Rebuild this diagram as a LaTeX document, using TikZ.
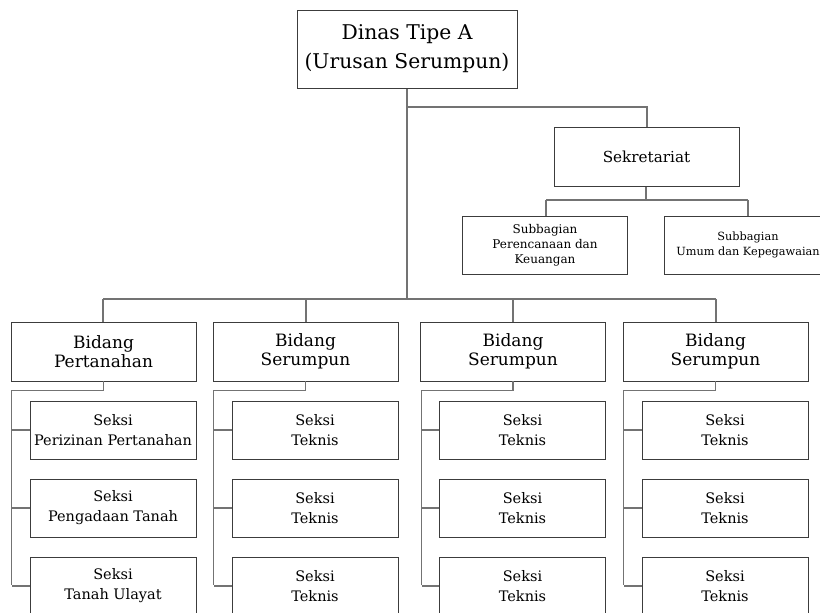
\documentclass[tikz,border=0pt]{standalone}
\usepackage{fontspec}
\setmainfont{DejaVu Serif}
\definecolor{boxline}{RGB}{60,60,60}
\definecolor{conline}{RGB}{115,115,115}
\tikzset{
  orgbox/.style={draw=boxline, line width=0.9pt, fill=white, rectangle, align=center, inner sep=0pt, text=black},
  topbox/.style={orgbox, minimum width=220pt, minimum height=78pt, font=\fontsize{20.3}{29}\selectfont},
  sekbox/.style={orgbox, minimum width=185pt, minimum height=59pt, font=\fontsize{15.2}{19}\selectfont},
  subbox/.style={orgbox, minimum height=58pt, font=\fontsize{12}{15}\selectfont},
  bidbox/.style={orgbox, minimum width=185pt, minimum height=59pt, font=\fontsize{17}{19.5}\selectfont},
  seksbox/.style={orgbox, minimum width=166pt, minimum height=58pt, font=\fontsize{14.5}{20}\selectfont},
  conn/.style={draw=conline, line width=1.1pt}
}
\begin{document}
\begin{tikzpicture}[x=1pt,y=-1pt]
\useasboundingbox (0,0) rectangle (820,613);
\clip (0,0) rectangle (820,613);
\fill[white] (0,0) rectangle (820,613);

% coordinates for buses
\coordinate (trunkB) at (407,107);
\coordinate (trunkE) at (407,299);
\coordinate (sekB) at (647,107);
\coordinate (subL) at (546,200);
\coordinate (subR) at (748,200);
\coordinate (subM) at (646,200);
\coordinate (busL) at (103,299);
\coordinate (busR) at (716,299);

% connectors (drawn first)
\draw[conn] (407,88) -- (trunkE);
\draw[conn] (trunkB) -- (sekB) -- (647,128);
\draw[conn] (646,186) -- (subM);
\draw[conn] (subL) -- (subR);
\draw[conn] (subL) -- (546,216);
\draw[conn] (subR) -- (748,216);
\draw[conn] (busL) -- (busR);
\foreach \x in {103,306,513,716} {
  \draw[conn] (\x,299) -- (\x,322);
}

% top
\node[topbox] (dinas) at (407,49) {Dinas Tipe A\\(Urusan Serumpun)};
\node[sekbox] (sek) at (646.5,156.5) {Sekretariat};
\node[subbox, minimum width=165pt] (sub1) at (545,245) {Subbagian\\Perencanaan dan\\Keuangan};
\node[subbox, minimum width=168pt, font=\fontsize{11.3}{15}\selectfont] (sub2) at (748,245) {Subbagian\\Umum dan Kepegawaian};

% bidang columns
\foreach \i/\cx/\name in {1/103.5/Pertanahan,2/305.5/Serumpun,3/513/Serumpun,4/715.5/Serumpun} {
  \node[bidbox] (bid\i) at (\cx,351.5) {Bidang\\\name};
  \draw[conn] (bid\i.south) -- ++(0,9) -| ([xshift=1pt,yshift=-9pt]bid\i.south west) -- ([xshift=1pt]bid\i.south west |- 0,585);
}

% seksi connectors
\foreach \i/\cx in {1/103.5,2/305.5,3/513,4/715.5} {
  \foreach \j/\cy in {1/430,2/508,3/586} {
    \coordinate (h\i\j) at ({\cx-91.5},\cy);
    \draw[conn] (h\i\j) -- ++(18,0);
  }
}
\node[seksbox] (s11) at (113,430) {Seksi\\Perizinan Pertanahan};
\node[seksbox] (s12) at (113,508) {Seksi\\Pengadaan Tanah};
\node[seksbox] (s13) at (113,586) {Seksi\\Tanah Ulayat};
\foreach \i/\cx in {2/315,3/522.5,4/725} {
  \node[seksbox] (s\i1) at (\cx,430) {Seksi\\Teknis};
  \node[seksbox] (s\i2) at (\cx,508) {Seksi\\Teknis};
  \node[seksbox] (s\i3) at (\cx,586) {Seksi\\Teknis};
}
\end{tikzpicture}
\end{document}
